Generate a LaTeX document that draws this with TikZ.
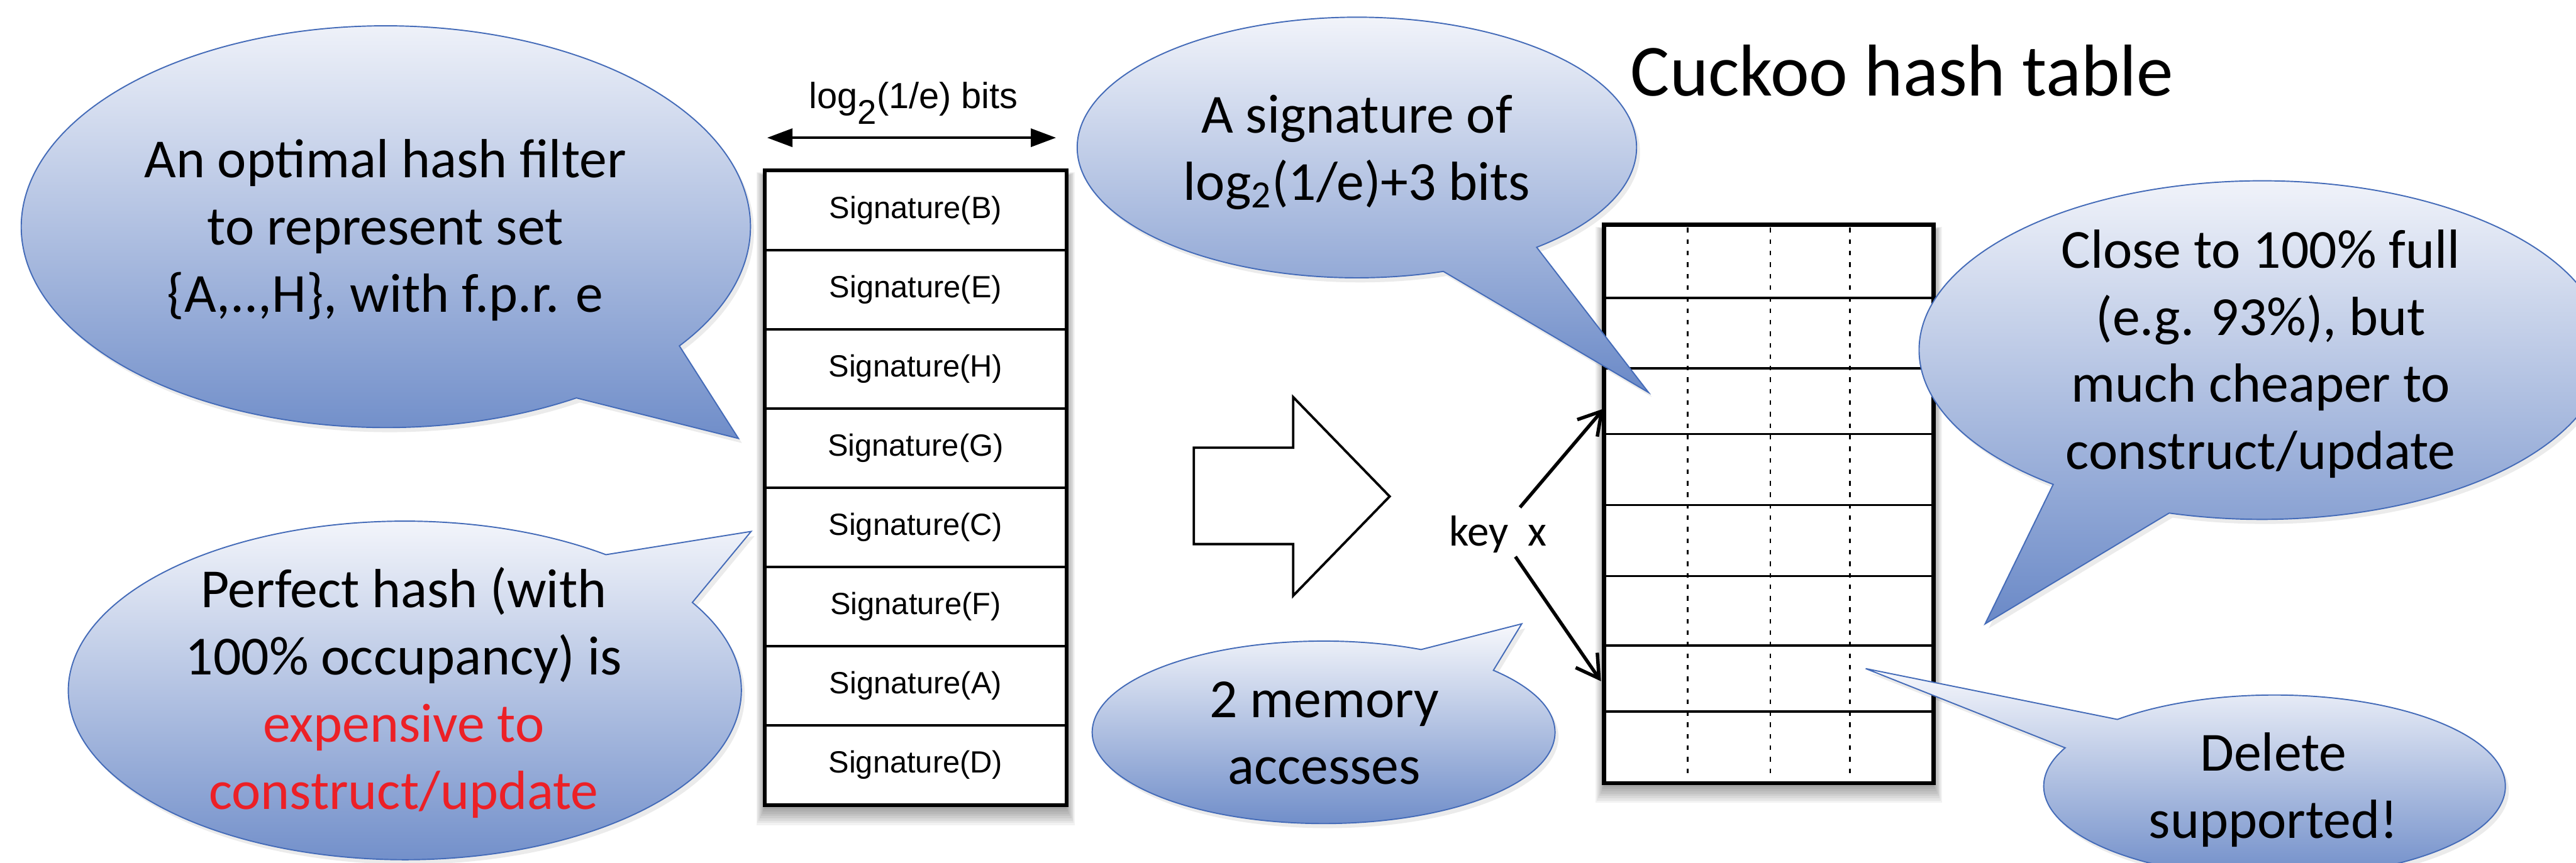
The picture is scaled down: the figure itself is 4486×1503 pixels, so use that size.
\documentclass[tikz,border=0pt]{standalone}
\usepackage{fontspec}
\setmainfont{Carlito}
\newfontfamily\arialfont{Liberation Sans}
\usetikzlibrary{arrows.meta}
\definecolor{bubtop}{RGB}{247,248,252}
\definecolor{bubbot}{RGB}{106,137,199}
\definecolor{bubedge}{RGB}{68,107,184}
\definecolor{warnred}{RGB}{236,32,38}
\newcommand\fl{\rule{0pt}{1em}}
\newcommand\mybubble[8]{%
  \fill[bubshadow] ([shift={(6,8)}]#7,#8) -- ([shift={(#1+6,#2+8)}]#5:#3 and #4)
     arc[start angle=#5,end angle=#6,x radius=#3,y radius=#4] -- cycle;
  \shadedraw[bubble] (#7,#8) -- ([shift={(#1,#2)}]#5:#3 and #4)
     arc[start angle=#5,end angle=#6,x radius=#3,y radius=#4] -- cycle;}
\newcommand\softshadow[4]{%
  \foreach \i in {1,...,8}{\fill[black,opacity=0.05] (#1-2*\i,#2+10-\i) rectangle (#3+2*\i,#4+4+4*\i);}}
\begin{document}
\begin{tikzpicture}[x=0.01cm,y=-0.01cm,
  bubble/.style={top color=bubtop,bottom color=bubbot,draw=bubedge,line width=0.6pt},
  bubshadow/.style={fill=black,opacity=0.08},
  bubtext/.style={font=\fontsize{27.3pt}{33.3pt}\selectfont,align=center,anchor=north,inner sep=0pt},
  sigcell/.style={draw,line width=1.1pt,fill=white,minimum width=5.23cm,minimum height=1.38cm,inner sep=0pt,font=\arialfont\fontsize{15.2pt}{18pt}\selectfont},
  tframe/.style={draw,line width=1.4pt},
  rowline/.style={line width=1.1pt},
  slotline/.style={line width=0.9pt,dash pattern=on 2.3pt off 3.4pt},
  keyarrow/.style={line width=1.7pt,-{Straight Barb[length=11pt,width=13pt]}},
  dimarrow/.style={line width=1.2pt,{Triangle[length=12.5pt,width=9pt]}-{Triangle[length=12.5pt,width=9pt]}},
]
\useasboundingbox (0,0) rectangle (4486,1503);
\fill[white] (0,0) rectangle (4486,1503);

% filter table
\softshadow{1333}{298}{1856}{1402}
\foreach \n/\l [count=\k from 0] in {sB/B,sE/E,sH/H,sG/G,sC/C,sF/F,sA/A,sD/D}
  \node[sigcell] (\n) at (1594.5,367+138*\k) {Signature(\l)};
\draw[tframe] (sB.north west) rectangle (sD.south east);

% width label
\coordinate (dimL) at (1336,240);
\coordinate (dimR) at (1839,240);
\draw[dimarrow] (dimL) -- (dimR);
\node[anchor=base,inner sep=0pt,font=\arialfont\fontsize{18pt}{20pt}\selectfont] (dimlab) at (1591,189)
  {log\raisebox{-0.43em}{\fontsize{17pt}{18pt}\selectfont 2}(1/e) bits};

% big arrow
\draw[line width=1.2pt,fill=white,miter limit=10] (2079,780) -- (2252,780) -- (2252,692) -- (2420,865)
  -- (2252,1038) -- (2252,948) -- (2079,948) -- cycle;

% cuckoo table
\softshadow{2795}{393}{3366}{1363}
\node[tframe,fill=white,minimum width=5.71cm,minimum height=9.7cm,inner sep=0pt] (ctab) at (3080.5,878) {};
\foreach \y in {519,642,756,880,1004,1125,1240} \draw[rowline] (2795,\y) -- (3366,\y);
\foreach \x in {2939,3083,3222} \draw[slotline] (\x,397) -- (\x,1359);
\draw[tframe] (ctab.north west) rectangle (ctab.south east);

\node[anchor=base west,inner sep=0pt,font=\fontsize{36.4pt}{44pt}\selectfont] (title) at (2839,167) {Cuckoo hash table};

% key arrows
\node[anchor=base west,inner sep=0pt,font=\fontsize{21.5pt}{25pt}\selectfont] (key) at (2523,951) {key\ \ x};
\coordinate (k1) at (2647,884);
\coordinate (k2) at (2639,970);
\coordinate (hit1) at (2793,712);
\coordinate (hit2) at (2788,1187);
\draw[keyarrow] (k1) -- (hit1);
\draw[keyarrow] (k2) -- (hit2);

% bubbles
\mybubble{672}{395}{635}{350}{58.5}{396.4}{1286}{764}
\mybubble{705}{1203}{586}{295}{-31.3}{306.7}{1308}{926}
\mybubble{2363}{257}{487}{227}{72}{410}{2871}{684}
\mybubble{3939}{610}{597}{295}{127.5}{465.7}{3457}{1087}
\mybubble{2305}{1276}{403}{159}{-42.8}{294.9}{2650}{1087}
\mybubble{3961}{1370}{402}{159}{227.1}{564.9}{3249}{1165}

\node[bubtext] (t1) at (671,309-96) {\fl An optimal hash filter\\to represent set\\\{A,..,H\}, with f.p.r. e};
\node[bubtext] (t2) at (703,1058-96) {\fl Perfect hash (with\\100\% occupancy) is\\\textcolor{warnred}{expensive to}\\\textcolor{warnred}{construct/update}};
\node[bubtext] (t3) at (2363,231-96) {\fl A signature of\\log\textsubscript{2}(1/e)+3 bits};
\node[bubtext] (t4) at (3937,466-96) {\fl Close to 100\% full\\(e.g. 93\%), but\\much cheaper to\\construct/update};
\node[bubtext] (t5) at (2306,1249-96) {\fl 2 memory\\accesses};
\node[bubtext] (t6) at (3959,1343-96) {\fl Delete\\supported!};
\end{tikzpicture}
\end{document}
